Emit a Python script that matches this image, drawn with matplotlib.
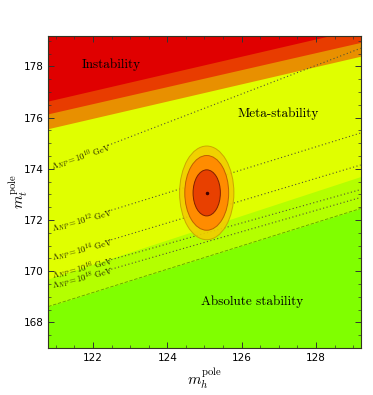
import numpy as np
import matplotlib
matplotlib.use('Agg')
from matplotlib import pyplot as plt
from matplotlib.patches import Ellipse
from matplotlib.ticker import MultipleLocator

plt.rcParams['mathtext.fontset'] = 'cm'

# boundaries given as (value at left edge, value at right edge) of m_h range
mh_edge = [120.8, 129.2]
instab_lo = [176.65, 179.48]
band1_lo = [176.15, 178.94]
band2_lo = [175.57, 178.40]
meta_lo = [169.70, 173.70]
green_lo = [168.62, 172.45]

# new physics scale lines
lam_exp = [10, 12, 14, 16, 18]
lam_left = [174.02, 171.62, 170.49, 169.76, 169.37]
lam_right = [178.71, 175.40, 174.15, 173.19, 172.88]

# measured masses and 1,2,3 sigma ellipses
mh0, mt0 = 125.06, 173.06
sig_mh = [0.367, 0.59, 0.73]
sig_mt = [0.90, 1.46, 1.83]

fig = plt.figure(figsize=(3.73, 3.95), dpi=100)
ax = fig.add_axes([0.1295, 0.119, 0.8375, 0.7906])
xlo, xhi = 120.8, 129.2
ylo, yhi = 167.0, 179.2

x = np.linspace(xlo, xhi, 50)
def lin(v):
    return np.interp(x, mh_edge, v)

ax.fill_between(x, ylo, yhi, color='#80FF00', lw=0)
ax.fill_between(x, lin(green_lo), yhi, color='#B4FF00', lw=0)
ax.fill_between(x, lin(meta_lo), yhi, color='#E0FF00', lw=0)
ax.fill_between(x, lin(band2_lo), yhi + 2, color='#E89000', lw=0)
ax.fill_between(x, lin(band1_lo), yhi + 2, color='#E83C00', lw=0)
ax.fill_between(x, lin(instab_lo), yhi + 2, color='#E00000', lw=0)
ax.plot(x, lin(green_lo), ls=(0, (4, 2)), color='#60A000', lw=0.6)

# Lambda lines, label at the left, line starting after it
xs = 122.4
for e, l, r in zip(lam_exp, lam_left, lam_right):
    xx = np.linspace(xs, xhi, 20)
    yy = np.interp(xx, mh_edge, [l, r])
    ax.plot(xx, yy, ls=(0, (1, 2.2)), color='#555530', lw=0.8)
    p1 = ax.transData.transform((xlo, l))
    p2 = ax.transData.transform((xhi, r))
    ang = np.degrees(np.arctan2(p2[1] - p1[1], p2[0] - p1[0]))
    xt = 120.9
    yt = np.interp(xt, mh_edge, [l, r])
    ax.text(xt, yt, r'$\Lambda_{NP}=10^{%d}$ GeV' % e, fontsize=6.2,
            family='cmr10', rotation=ang, rotation_mode='anchor',
            ha='left', va='center', color='#222200')

cols = ['#E84000', '#FF8C00', '#F2CC00']
edges = ['#802000', '#C06000', '#C8A000']
for i in [2, 1, 0]:
    ax.add_patch(Ellipse((mh0, mt0), 2 * sig_mh[i], 2 * sig_mt[i],
                         facecolor=cols[i], edgecolor=edges[i], lw=0.7,
                         alpha=0.9 if i == 2 else 1.0, zorder=3))
ax.plot(mh0, mt0, 'o', ms=1.5, color='#400000', zorder=4)

ax.text(122.5, 178.05, 'Instability', family='cmr10', fontsize=9.5,
        ha='center', va='center')
ax.text(126.98, 176.16, 'Meta-stability', family='cmr10', fontsize=9.5,
        ha='center', va='center')
ax.text(126.28, 168.8, 'Absolute stability', family='cmr10', fontsize=9.5,
        ha='center', va='center')

ax.set_xlim(xlo, xhi)
ax.set_ylim(ylo, yhi)
ax.xaxis.set_major_locator(MultipleLocator(2))
ax.xaxis.set_minor_locator(MultipleLocator(0.5))
ax.yaxis.set_major_locator(MultipleLocator(2))
ax.yaxis.set_minor_locator(MultipleLocator(0.5))
ax.tick_params(which='both', direction='in', top=True, right=True,
               labelsize=7.5, color='#333333')
ax.tick_params(which='major', length=4, width=0.7)
ax.tick_params(which='minor', length=2, width=0.5)
for s in ax.spines.values():
    s.set_color('#333322')
    s.set_linewidth(0.8)

ax.set_xlabel(r'$m_h^{\rm pole}$', fontsize=11)
ax.set_ylabel(r'$m_t^{\rm pole}$', fontsize=11)
ax.xaxis.set_label_coords(0.5, -0.062)
ax.yaxis.set_label_coords(-0.058, 0.5)

plt.savefig('out.png', dpi=100)
